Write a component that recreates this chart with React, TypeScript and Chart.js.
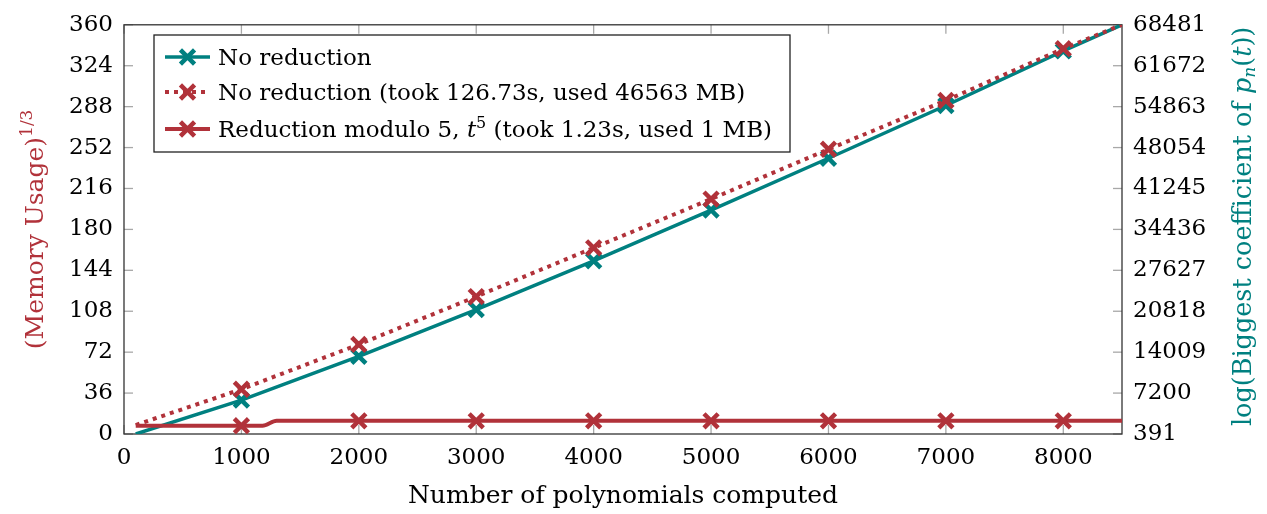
import React, { useEffect, useRef } from "react";
import { Chart, registerables } from "chart.js";

Chart.register(...registerables);

const FONT = "'DejaVu Serif', serif";
const TEAL = "#008080";
const RED = "#b1323a";

const xTickValues = [0, 1000, 2000, 3000, 4000, 5000, 6000, 7000, 8000];
const leftTickValues = [0, 36, 72, 108, 144, 180, 216, 252, 288, 324, 360];
const rightTickValues = [391, 7200, 14009, 20818, 27627, 34436, 41245, 48054, 54863, 61672, 68481];
const markerX = [1000, 2000, 3000, 4000, 5000, 6000, 7000, 8000];

const noRedX = [100, 1000, 2000, 3000, 4000, 5000, 6000, 7000, 8000, 8500];
const noRedLogCoeff = [391, 6027, 13310, 21102, 29217, 37651, 46277, 55051, 64130, 68481];
const noRedMemory = [7.9, 39.4, 78.8, 120.9, 163.8, 206.7, 250.5, 293.4, 339, 360];

const reducedX = [100, 1000, 1180, 1300, 2000, 3000, 4000, 5000, 6000, 7000, 8000, 8500];
const reducedMemory = [7.3, 7.3, 7.3, 11.6, 11.6, 11.6, 11.6, 11.6, 11.6, 11.6, 11.6, 11.6];

const legendLabels = [
  [{ t: "No reduction" }],
  [{ t: "No reduction (took 126.73s, used 46563 MB)" }],
  [
    { t: "Reduction modulo 5, " },
    { t: "t", italic: true },
    { t: "5", small: true, dy: -9 },
    { t: " (took 1.23s, used 1 MB)" },
  ],
];

type Piece = { t: string; italic?: boolean; small?: boolean; dy?: number };

const MARKER_R = 10;
const MARKER_W = 4.5;

function drawRich(ctx: CanvasRenderingContext2D, pieces: Piece[], x: number, y: number, align: "left" | "center", size: number) {
  const fontFor = (p: Piece) => `${p.italic ? "italic " : ""}${p.small ? Math.round(size * 0.68) : size}px ${FONT}`;
  const widths = pieces.map((p) => {
    ctx.font = fontFor(p);
    return ctx.measureText(p.t).width;
  });
  const total = widths.reduce((a, b) => a + b, 0);
  let cx = align === "center" ? x - total / 2 : x;
  ctx.textAlign = "left";
  ctx.textBaseline = "alphabetic";
  pieces.forEach((p, i) => {
    ctx.font = fontFor(p);
    ctx.fillText(p.t, cx, y + (p.dy || 0));
    cx += widths[i];
  });
}

function markerRadius(ctx: any) {
  const raw = ctx.raw as { x: number } | undefined;
  return raw && markerX.includes(raw.x) ? MARKER_R : 0;
}

const plainTick = (v: any) => String(v);

const decorPlugin = {
  id: "decor",
  beforeDatasetsDraw(chart: any) {
    const { ctx, chartArea: a, scales } = chart;
    ctx.save();
    const T = 9;
    ctx.strokeStyle = "#a8a8a8";
    ctx.lineWidth = 1.3;
    const line = (x1: number, y1: number, x2: number, y2: number) => {
      ctx.beginPath();
      ctx.moveTo(x1, y1);
      ctx.lineTo(x2, y2);
      ctx.stroke();
    };
    for (const v of xTickValues) {
      const px = scales.x.getPixelForValue(v);
      line(px, a.bottom, px, a.bottom - T);
      line(px, a.top, px, a.top + T);
    }
    for (const v of leftTickValues) {
      const py = scales.y.getPixelForValue(v);
      line(a.left, py, a.left + T, py);
    }
    for (const v of rightTickValues) {
      const py = scales.y1.getPixelForValue(v);
      line(a.right, py, a.right - T, py);
    }
    ctx.strokeStyle = "#333333";
    ctx.lineWidth = 1.3;
    ctx.strokeRect(a.left, a.top, a.right - a.left, a.bottom - a.top);
    ctx.restore();
  },
  afterDraw(chart: any) {
    const { ctx, chartArea: a } = chart;
    ctx.save();
    // x title
    ctx.fillStyle = "#000";
    drawRich(ctx, [{ t: "Number of polynomials computed" }], (a.left + a.right) / 2, 503, "center", 25);

    // left title
    ctx.save();
    ctx.translate(43, (a.top + a.bottom) / 2);
    ctx.rotate(-Math.PI / 2);
    ctx.fillStyle = RED;
    drawRich(ctx, [{ t: "(Memory Usage)" }, { t: "1/3", small: true, dy: -11 }], 0, 0, "center", 25);
    ctx.restore();

    // right title
    ctx.save();
    ctx.translate(1251, (a.top + a.bottom) / 2 - 3);
    ctx.rotate(-Math.PI / 2);
    ctx.fillStyle = TEAL;
    drawRich(
      ctx,
      [
        { t: "log(Biggest coefficient of " },
        { t: "p", italic: true },
        { t: "n", italic: true, small: true, dy: 4 },
        { t: "(" },
        { t: "t", italic: true },
        { t: "))" },
      ],
      0,
      0,
      "center",
      25.5
    );
    ctx.restore();

    // legend
    const bx = 154, by = 35, bw = 636, bh = 117;
    ctx.fillStyle = "#ffffff";
    ctx.fillRect(bx, by, bw, bh);
    ctx.strokeStyle = "#222";
    ctx.lineWidth = 1.3;
    ctx.strokeRect(bx, by, bw, bh);
    const rows = [57, 92, 129];
    const datasets = chart.data.datasets;
    rows.forEach((ry, i) => {
      const ds = datasets[i];
      ctx.save();
      ctx.strokeStyle = ds.borderColor;
      ctx.lineWidth = ds.borderWidth;
      ctx.setLineDash(ds.borderDash || []);
      ctx.beginPath();
      ctx.moveTo(165, ry);
      ctx.lineTo(210, ry);
      ctx.stroke();
      ctx.setLineDash([]);
      ctx.lineWidth = MARKER_W;
      const r = MARKER_R * Math.SQRT1_2;
      const mx = 187.5;
      ctx.beginPath();
      ctx.moveTo(mx - r, ry - r);
      ctx.lineTo(mx + r, ry + r);
      ctx.moveTo(mx + r, ry - r);
      ctx.lineTo(mx - r, ry + r);
      ctx.stroke();
      ctx.restore();
      ctx.fillStyle = "#000";
      drawRich(ctx, legendLabels[i] as Piece[], 218, ry + 8, "left", 23);
    });
    ctx.restore();
  },
};

export default function App() {
  const ref = useRef<HTMLCanvasElement | null>(null);
  useEffect(() => {
    document.body.style.margin = "0";
    const canvas = ref.current;
    if (!canvas) return;
    const tickFont = { family: FONT, size: 23 };
    const chart = new Chart(canvas, {
      type: "line",
      data: {
        datasets: [
          {
            label: "No reduction",
            data: noRedX.map((x, i) => ({ x, y: noRedLogCoeff[i] })),
            yAxisID: "y1",
            borderColor: TEAL,
            backgroundColor: TEAL,
            borderWidth: 3.5,
            pointStyle: "crossRot",
            pointRadius: markerRadius,
            pointBorderWidth: MARKER_W,
            pointBorderColor: TEAL,
            fill: false,
            tension: 0,
            order: 3,
          },
          {
            label: "No reduction (took 126.73s, used 46563 MB)",
            data: noRedX.map((x, i) => ({ x, y: noRedMemory[i] })),
            yAxisID: "y",
            borderColor: RED,
            backgroundColor: RED,
            borderWidth: 4,
            borderDash: [4, 5],
            pointStyle: "crossRot",
            pointRadius: markerRadius,
            pointBorderWidth: MARKER_W,
            pointBorderColor: RED,
            fill: false,
            tension: 0,
            order: 1,
          },
          {
            label: "Reduction modulo 5, t^5 (took 1.23s, used 1 MB)",
            data: reducedX.map((x, i) => ({ x, y: reducedMemory[i] })),
            yAxisID: "y",
            borderColor: RED,
            backgroundColor: RED,
            borderWidth: 4,
            pointStyle: "crossRot",
            pointRadius: markerRadius,
            pointBorderWidth: MARKER_W,
            pointBorderColor: RED,
            fill: false,
            cubicInterpolationMode: "monotone",
            order: 2,
          },
        ],
      },
      options: {
        responsive: false,
        animation: false,
        events: [],
        layout: { padding: { top: 23, left: 0, right: 0, bottom: 0 } },
        plugins: { legend: { display: false }, tooltip: { enabled: false }, title: { display: false } },
        scales: {
          x: {
            type: "linear",
            position: "bottom",
            min: 0,
            max: 8500,
            grid: { display: false, drawTicks: false },
            border: { display: false },
            ticks: { font: tickFont, color: "#000", padding: 10, maxRotation: 0, autoSkip: false, callback: plainTick },
            afterBuildTicks: (s: any) => {
              s.ticks = xTickValues.map((v) => ({ value: v }));
            },
            afterFit: (s: any) => {
              s.height = 80;
            },
          },
          y: {
            type: "linear",
            position: "left",
            min: 0,
            max: 360,
            grid: { display: false, drawTicks: false },
            border: { display: false },
            ticks: { font: tickFont, color: "#000", padding: 11, autoSkip: false, callback: plainTick },
            afterBuildTicks: (s: any) => {
              s.ticks = leftTickValues.map((v) => ({ value: v }));
            },
            afterFit: (s: any) => {
              s.width = 124;
            },
          },
          y1: {
            type: "linear",
            position: "right",
            min: 391,
            max: 68481,
            grid: { display: false, drawTicks: false },
            border: { display: false },
            ticks: { font: tickFont, color: "#000", padding: 11, autoSkip: false, callback: plainTick },
            afterBuildTicks: (s: any) => {
              s.ticks = rightTickValues.map((v) => ({ value: v }));
            },
            afterFit: (s: any) => {
              s.width = 145;
            },
          },
        },
      },
      plugins: [decorPlugin],
    } as any);
    return () => chart.destroy();
  }, []);
  return (
    <div style={{ width: 1267, height: 514, background: "#fff" }}>
      <canvas ref={ref} width={1267} height={514} />
    </div>
  );
}
